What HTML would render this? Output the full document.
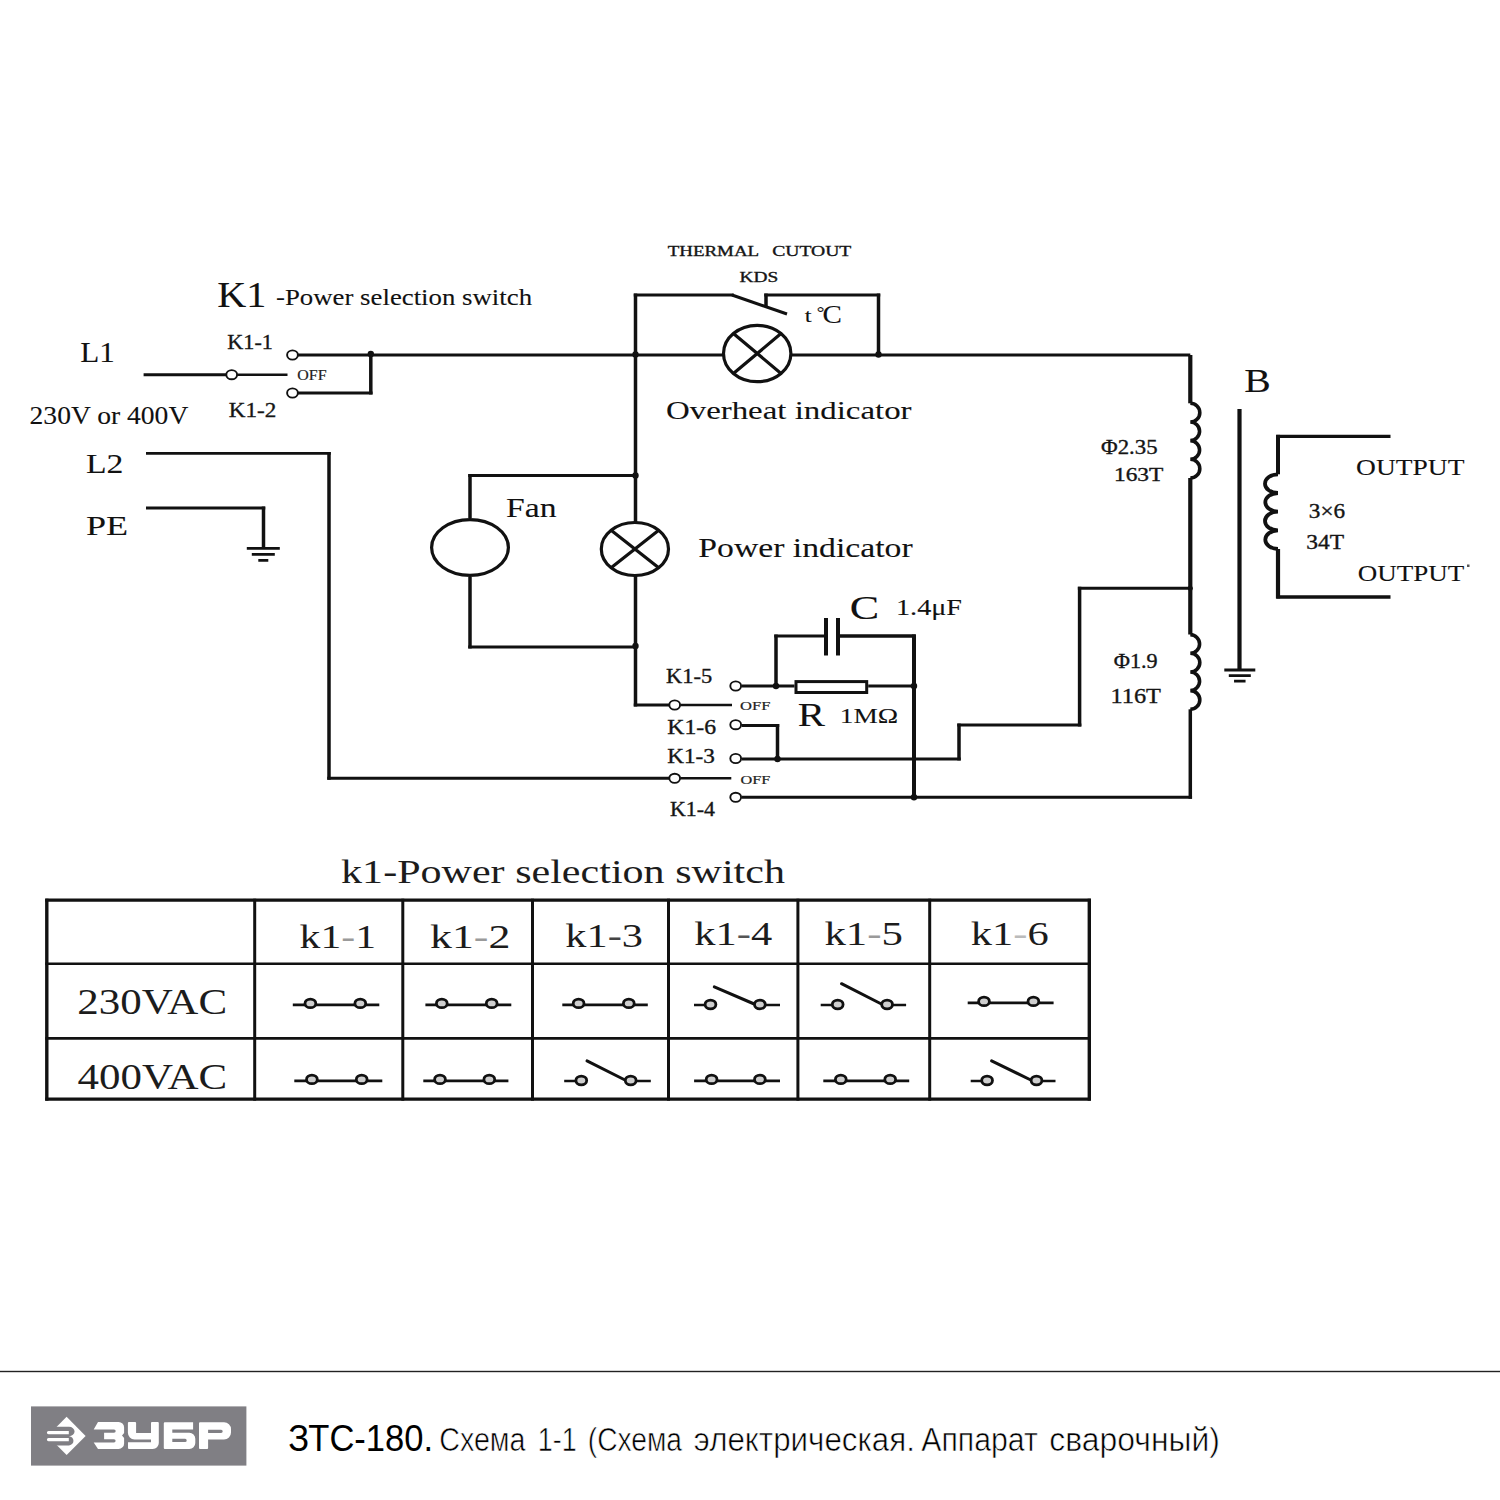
<!DOCTYPE html><html><head><meta charset="utf-8"><style>
html,body{margin:0;padding:0;background:#fff;}
body{width:1500px;height:1500px;overflow:hidden;position:relative;}
svg{position:absolute;left:0;top:0;}
.t{font-family:"Liberation Serif", serif;fill:#111;stroke:#111;stroke-width:0.1px;}
.s{font-family:"Liberation Sans", sans-serif;fill:#111;}
.tt{font-family:"Liberation Serif", serif;fill:#1c1c1c;}
.tb{font-family:"Liberation Serif", serif;fill:#151515;stroke:#151515;stroke-width:0.35px;}
.to{font-family:"Liberation Serif", serif;fill:#222;stroke:#222;stroke-width:0.2px;}
.tk{font-family:"Liberation Serif", serif;fill:#111;stroke:#111;stroke-width:0.1px;}
</style></head><body>
<svg width="1500" height="1500" viewBox="0 0 1500 1500">
<g fill="none" stroke="#111" stroke-linecap="butt" stroke-linejoin="miter">
<path d="M143.60 374.7 H226.00" stroke-width="2.90" />
<ellipse cx="231.7" cy="374.7" rx="5.4" ry="4.6" fill="#fff" stroke-width="1.9"/>
<path d="M237.2 374.7 L287.5 374.7" stroke-width="2.6" />
<ellipse cx="292.5" cy="355" rx="5.4" ry="4.6" fill="#fff" stroke-width="1.9"/>
<ellipse cx="292.5" cy="393" rx="5.4" ry="4.6" fill="#fff" stroke-width="1.9"/>
<path d="M298.00 355 H1190.30" stroke-width="2.90" />
<path d="M298.00 393 H372.55" stroke-width="2.90" />
<path d="M370.8 394.45 V353.50" stroke-width="3.50" />
<circle cx="370.8" cy="354" r="3.2" fill="#111" stroke="none"/>
<path d="M635.5 355.00 V293.55" stroke-width="3.50" />
<path d="M633.75 295 H733.75" stroke-width="2.90" />
<path d="M732 295 L787 314" stroke-width="3" />
<path d="M766 307.00 V293.55" stroke-width="3.50" />
<path d="M764.25 295 H880.25" stroke-width="2.90" />
<path d="M878.5 293.55 V355.00" stroke-width="3.50" />
<circle cx="635.5" cy="354.5" r="3.2" fill="#111" stroke="none"/>
<circle cx="878.5" cy="354.5" r="3.2" fill="#111" stroke="none"/>
<ellipse cx="757.2" cy="353.5" rx="33.7" ry="28.2" fill="#fff" stroke-width="3.2"/>
<path d="M733.4 333.6 L781.0 373.4 M781.0 333.6 L733.4 373.4" stroke-width="3.2"/>
<path d="M635.5 355.00 V706.45" stroke-width="3.50" />
<path d="M633.75 705 H669.30" stroke-width="2.90" />
<circle cx="635.5" cy="475.5" r="3.2" fill="#111" stroke="none"/>
<circle cx="635.5" cy="646" r="3.2" fill="#111" stroke="none"/>
<path d="M635.50 475.5 H468.25" stroke-width="2.90" />
<path d="M470 474.05 V518.00" stroke-width="3.50" />
<path d="M470 577.00 V648.45" stroke-width="3.50" />
<path d="M468.25 647 H635.50" stroke-width="2.90" />
<ellipse cx="470" cy="547.5" rx="38.4" ry="27.9" fill="#fff" stroke-width="3.2"/>
<ellipse cx="634.9" cy="549" rx="33.6" ry="26.5" fill="#fff" stroke-width="3.2"/>
<path d="M611.1 530.3 L658.7 567.7 M658.7 530.3 L611.1 567.7" stroke-width="3.2"/>
<ellipse cx="674.7" cy="705" rx="5.4" ry="4.6" fill="#fff" stroke-width="1.9"/>
<path d="M680.4 705 L732 705" stroke-width="2.4" />
<ellipse cx="735.7" cy="686" rx="5.4" ry="4.6" fill="#fff" stroke-width="1.9"/>
<path d="M741.70 686 H794.50" stroke-width="2.90" />
<path d="M868.20 686 H914.00" stroke-width="2.90" />
<circle cx="776" cy="686" r="3.2" fill="#111" stroke="none"/>
<circle cx="914" cy="686" r="3.2" fill="#111" stroke="none"/>
<rect x="796" y="681.6" width="70.7" height="10.9" fill="#fff" stroke-width="3"/>
<path d="M776 686.00 V634.55" stroke-width="3.50" />
<path d="M774.25 636 H826.00" stroke-width="2.90" />
<path d="M838.00 636 H915.75" stroke-width="3.29" />
<path d="M914 634.55 V797.00" stroke-width="3.97" />
<path d="M826 618.00 V655.50" stroke-width="3.97" />
<path d="M838 618.00 V655.50" stroke-width="3.97" />
<ellipse cx="735.7" cy="724.7" rx="5.4" ry="4.6" fill="#fff" stroke-width="1.9"/>
<path d="M741.70 725.5 H779.25" stroke-width="2.90" />
<path d="M777.5 724.05 V759.00" stroke-width="3.50" />
<ellipse cx="735.7" cy="758.5" rx="5.4" ry="4.6" fill="#fff" stroke-width="1.9"/>
<path d="M741.70 759 H960.75" stroke-width="2.90" />
<path d="M959 760.45 V723.55" stroke-width="3.50" />
<path d="M957.25 725 H1081.35" stroke-width="2.90" />
<path d="M1079.6 726.45 V586.75" stroke-width="3.50" />
<path d="M1077.85 588.2 H1190.30" stroke-width="2.90" />
<circle cx="777.5" cy="759" r="3.2" fill="#111" stroke="none"/>
<circle cx="1190.3" cy="588.2" r="2.5" fill="#111" stroke="none"/>
<path d="M146.00 453.4 H330.75" stroke-width="2.90" />
<path d="M329 451.95 V779.75" stroke-width="3.50" />
<path d="M327.25 778.3 H669.00" stroke-width="2.90" />
<ellipse cx="674.7" cy="778.3" rx="5.4" ry="4.6" fill="#fff" stroke-width="1.9"/>
<path d="M680.4 778.3 L731.3 778.3" stroke-width="2.4" />
<ellipse cx="735.7" cy="797.3" rx="5.4" ry="4.6" fill="#fff" stroke-width="1.9"/>
<path d="M741.70 797.3 H1192.05" stroke-width="2.90" />
<path d="M1190.3 798.75 V709.30" stroke-width="3.50" />
<circle cx="914" cy="797.3" r="3.2" fill="#111" stroke="none"/>
<path d="M146.00 508 H265.25" stroke-width="2.90" />
<path d="M263.5 506.55 V548.30" stroke-width="3.50" />
<path d="M246.8 548.3 H279.8 M251.8 554.3 H274.8 M258.3 560.3 H268.3" stroke-width="2.8"/>
<path d="M1190.3 355.00 V403.30" stroke-width="4.20" />
<path d="M1190.3 403.3 A9.5 9.337499999999999 0 0 1 1190.3 421.98 A9.5 9.337499999999999 0 0 1 1190.3 440.65 A9.5 9.337499999999999 0 0 1 1190.3 459.32 A9.5 9.337499999999999 0 0 1 1190.3 478.00" stroke-width="3.6"/>
<path d="M1190.3 478.00 V634.60" stroke-width="4.20" />
<path d="M1190.3 634.6 A9.5 9.337499999999991 0 0 1 1190.3 653.27 A9.5 9.337499999999991 0 0 1 1190.3 671.95 A9.5 9.337499999999991 0 0 1 1190.3 690.62 A9.5 9.337499999999991 0 0 1 1190.3 709.30" stroke-width="3.6"/>
<path d="M1239.5 409.00 V670.00" stroke-width="4.20" />
<path d="M1224.3 670 H1255.3 M1228.8 675.6 H1250.8 M1234.05 681.2 H1245.55" stroke-width="2.8"/>
<path d="M1390.50 436.3 H1276.25" stroke-width="3.29" />
<path d="M1278 434.85 V474.30" stroke-width="3.97" />
<path d="M1278 474.3 A13 9.337499999999999 0 0 0 1278 492.98 A13 9.337499999999999 0 0 0 1278 511.65 A13 9.337499999999999 0 0 0 1278 530.33 A13 9.337499999999999 0 0 0 1278 549.00" stroke-width="3.8"/>
<path d="M1278 549.00 V598.45" stroke-width="4.20" />
<path d="M1276.25 597 H1390.50" stroke-width="3.48" />
</g>
<text x="217.24" y="306.9" font-size="35" textLength="49.07" lengthAdjust="spacingAndGlyphs" class="tk" >K1</text>
<text x="276.01" y="305.4" font-size="23" textLength="256.05" lengthAdjust="spacingAndGlyphs" class="t" >-Power selection switch</text>
<text x="667.66" y="255.6" font-size="15" textLength="91.48" lengthAdjust="spacingAndGlyphs" class="tb" >THERMAL</text>
<text x="772.20" y="255.6" font-size="15" textLength="79.12" lengthAdjust="spacingAndGlyphs" class="tb" >CUTOUT</text>
<text x="739.44" y="282.4" font-size="15" textLength="38.76" lengthAdjust="spacingAndGlyphs" class="tb" >KDS</text>
<text x="804.76" y="322" font-size="19" textLength="6.89" lengthAdjust="spacingAndGlyphs" class="t" >t</text>
<text x="816.88" y="317.5" font-size="17" textLength="7.65" lengthAdjust="spacingAndGlyphs" class="t" >&#176;</text>
<text x="822.61" y="323.3" font-size="26" textLength="19.40" lengthAdjust="spacingAndGlyphs" class="t" >C</text>
<text x="665.95" y="419.1" font-size="25" textLength="245.64" lengthAdjust="spacingAndGlyphs" class="t" >Overheat indicator</text>
<text x="80.30" y="361.8" font-size="29" textLength="34.57" lengthAdjust="spacingAndGlyphs" class="t" >L1</text>
<text x="29.59" y="423.6" font-size="25" textLength="158.72" lengthAdjust="spacingAndGlyphs" class="t" >230V or 400V</text>
<text x="86.03" y="472.7" font-size="28" textLength="37.43" lengthAdjust="spacingAndGlyphs" class="t" >L2</text>
<text x="85.96" y="535.2" font-size="28" textLength="42.14" lengthAdjust="spacingAndGlyphs" class="t" >PE</text>
<text x="227.36" y="348.8" font-size="21" textLength="45.47" lengthAdjust="spacingAndGlyphs" class="tb" >K1-1</text>
<text x="228.84" y="416.7" font-size="21" textLength="47.44" lengthAdjust="spacingAndGlyphs" class="tb" >K1-2</text>
<text x="297.35" y="380" font-size="14" textLength="29.23" lengthAdjust="spacingAndGlyphs" class="to" >OFF</text>
<text x="506.03" y="517.4" font-size="28" textLength="50.48" lengthAdjust="spacingAndGlyphs" class="t" >Fan</text>
<text x="698.33" y="556.7" font-size="27" textLength="214.27" lengthAdjust="spacingAndGlyphs" class="t" >Power indicator</text>
<text x="849.89" y="618.8" font-size="34" textLength="29.45" lengthAdjust="spacingAndGlyphs" class="t" >C</text>
<text x="896.02" y="615.3" font-size="23.5" textLength="65.99" lengthAdjust="spacingAndGlyphs" class="t" >1.4&#956;F</text>
<text x="797.72" y="726.3" font-size="33" textLength="27.24" lengthAdjust="spacingAndGlyphs" class="t" >R</text>
<text x="839.79" y="722.8" font-size="22" textLength="58.43" lengthAdjust="spacingAndGlyphs" class="t" >1M&#937;</text>
<text x="666.05" y="682.7" font-size="20" textLength="46.12" lengthAdjust="spacingAndGlyphs" class="tb" >K1-5</text>
<text x="740.12" y="709.8" font-size="13.4" textLength="30.27" lengthAdjust="spacingAndGlyphs" class="to" >OFF</text>
<text x="667.32" y="734" font-size="20" textLength="48.69" lengthAdjust="spacingAndGlyphs" class="tb" >K1-6</text>
<text x="667.33" y="762.7" font-size="20" textLength="47.57" lengthAdjust="spacingAndGlyphs" class="tb" >K1-3</text>
<text x="740.43" y="783.8" font-size="13.4" textLength="29.86" lengthAdjust="spacingAndGlyphs" class="to" >OFF</text>
<text x="670.07" y="816" font-size="20" textLength="44.97" lengthAdjust="spacingAndGlyphs" class="tb" >K1-4</text>
<text x="1101.01" y="454" font-size="22" textLength="56.58" lengthAdjust="spacingAndGlyphs" class="tb" >&#934;2.35</text>
<text x="1113.94" y="481" font-size="19" textLength="49.45" lengthAdjust="spacingAndGlyphs" class="tb" >163T</text>
<text x="1244.16" y="392" font-size="33" textLength="26.48" lengthAdjust="spacingAndGlyphs" class="t" >B</text>
<text x="1356.07" y="475.2" font-size="24" textLength="108.38" lengthAdjust="spacingAndGlyphs" class="t" >OUTPUT</text>
<text x="1357.69" y="580.8" font-size="24" textLength="106.56" lengthAdjust="spacingAndGlyphs" class="t" >OUTPUT</text>
<rect x="1467" y="564.5" width="2.5" height="2.5" fill="#555"/>
<text x="1308.89" y="518.4" font-size="20" textLength="36.20" lengthAdjust="spacingAndGlyphs" class="tb" >3&#215;6</text>
<text x="1306.18" y="548.8" font-size="20" textLength="37.81" lengthAdjust="spacingAndGlyphs" class="tb" >34T</text>
<text x="1113.73" y="667.5" font-size="21" textLength="43.88" lengthAdjust="spacingAndGlyphs" class="tb" >&#934;1.9</text>
<text x="1110.50" y="703" font-size="22" textLength="50.50" lengthAdjust="spacingAndGlyphs" class="tb" >116T</text>
<text x="341.10" y="882.9" font-size="34.5" textLength="443.86" lengthAdjust="spacingAndGlyphs" class="tt" >k1-Power selection switch</text>
<g fill="none" stroke="#111">
<path d="M46.8 898.7 V1100.7" stroke-width="3.4"/>
<path d="M254.7 898.7 V1100.7" stroke-width="3.0"/>
<path d="M402.8 898.7 V1100.7" stroke-width="3.0"/>
<path d="M532.5 898.7 V1100.7" stroke-width="3.0"/>
<path d="M668.5 898.7 V1100.7" stroke-width="3.0"/>
<path d="M797.9 898.7 V1100.7" stroke-width="3.0"/>
<path d="M929.7 898.7 V1100.7" stroke-width="3.0"/>
<path d="M1089.3 898.7 V1100.7" stroke-width="3.4"/>
<path d="M45.3 900.2 H1090.8" stroke-width="3.2"/>
<path d="M45.3 963.7 H1090.8" stroke-width="2.6"/>
<path d="M45.3 1038.4 H1090.8" stroke-width="2.6"/>
<path d="M45.3 1099.2 H1090.8" stroke-width="3.2"/>
</g>
<text x="299.61" y="948" font-size="34.5" textLength="76.40" lengthAdjust="spacingAndGlyphs" class="tt" >k1<tspan fill="#9a9a9a">-</tspan>1</text>
<text x="429.97" y="948" font-size="34.5" textLength="80.35" lengthAdjust="spacingAndGlyphs" class="tt" >k1<tspan fill="#9a9a9a">-</tspan>2</text>
<text x="565.29" y="947.3" font-size="34.5" textLength="77.66" lengthAdjust="spacingAndGlyphs" class="tt" >k1<tspan fill="#444">-</tspan>3</text>
<text x="694.39" y="944.8" font-size="34.5" textLength="77.87" lengthAdjust="spacingAndGlyphs" class="tt" >k1<tspan fill="#555">-</tspan>4</text>
<text x="824.48" y="944.7" font-size="34.5" textLength="78.49" lengthAdjust="spacingAndGlyphs" class="tt" >k1<tspan fill="#9a9a9a">-</tspan>5</text>
<text x="970.89" y="944.7" font-size="34.5" textLength="77.87" lengthAdjust="spacingAndGlyphs" class="tt" >k1<tspan fill="#bbb">-</tspan>6</text>
<text x="77.38" y="1013.8" font-size="35.3" textLength="149.71" lengthAdjust="spacingAndGlyphs" class="tt" >230VAC</text>
<text x="77.49" y="1089.2" font-size="35.3" textLength="149.59" lengthAdjust="spacingAndGlyphs" class="tt" >400VAC</text>
<path d="M292.8 1004.8 H379.3" stroke="#111" stroke-width="2.7" fill="none"/>
<ellipse cx="310.4" cy="1003.4" rx="5.4" ry="4.3" fill="#cfcfcf" stroke="#111" stroke-width="2.8"/>
<ellipse cx="360.3" cy="1003.4" rx="5.4" ry="4.3" fill="#cfcfcf" stroke="#111" stroke-width="2.8"/>
<path d="M425.4 1004.8 H511.3" stroke="#111" stroke-width="2.7" fill="none"/>
<ellipse cx="441.8" cy="1003.4" rx="5.4" ry="4.3" fill="#cfcfcf" stroke="#111" stroke-width="2.8"/>
<ellipse cx="491.7" cy="1003.4" rx="5.4" ry="4.3" fill="#cfcfcf" stroke="#111" stroke-width="2.8"/>
<path d="M562.3 1004.8 H647.8" stroke="#111" stroke-width="2.7" fill="none"/>
<ellipse cx="578.6" cy="1003.4" rx="5.4" ry="4.3" fill="#cfcfcf" stroke="#111" stroke-width="2.8"/>
<ellipse cx="628.8" cy="1003.4" rx="5.4" ry="4.3" fill="#cfcfcf" stroke="#111" stroke-width="2.8"/>
<path d="M694 1005 H710.5 M759.9 1005 H780" stroke="#111" stroke-width="2.7" fill="none"/>
<path d="M714.3 986.8 L754.2 1004" stroke="#111" stroke-width="3" stroke-linecap="round" fill="none"/>
<ellipse cx="710.5" cy="1004.5" rx="5.4" ry="4.3" fill="#cfcfcf" stroke="#111" stroke-width="2.8"/>
<ellipse cx="759.9" cy="1004.5" rx="5.4" ry="4.3" fill="#cfcfcf" stroke="#111" stroke-width="2.8"/>
<path d="M820.7 1005 H837.7 M887.1 1005 H906.1" stroke="#111" stroke-width="2.7" fill="none"/>
<path d="M841.5 983.7 L881.4 1004" stroke="#111" stroke-width="3" stroke-linecap="round" fill="none"/>
<ellipse cx="837.7" cy="1004.5" rx="5.4" ry="4.3" fill="#cfcfcf" stroke="#111" stroke-width="2.8"/>
<ellipse cx="887.1" cy="1004.5" rx="5.4" ry="4.3" fill="#cfcfcf" stroke="#111" stroke-width="2.8"/>
<path d="M967.7 1002.8 H1053.6" stroke="#111" stroke-width="2.7" fill="none"/>
<ellipse cx="984" cy="1001.4" rx="5.4" ry="4.3" fill="#cfcfcf" stroke="#111" stroke-width="2.8"/>
<ellipse cx="1033.4" cy="1001.4" rx="5.4" ry="4.3" fill="#cfcfcf" stroke="#111" stroke-width="2.8"/>
<path d="M294.3 1080.8 H382.3" stroke="#111" stroke-width="2.7" fill="none"/>
<ellipse cx="311.9" cy="1079.4" rx="5.4" ry="4.3" fill="#cfcfcf" stroke="#111" stroke-width="2.8"/>
<ellipse cx="361.7" cy="1079.4" rx="5.4" ry="4.3" fill="#cfcfcf" stroke="#111" stroke-width="2.8"/>
<path d="M423.3 1080.8 H508.4" stroke="#111" stroke-width="2.7" fill="none"/>
<ellipse cx="440" cy="1079.4" rx="5.4" ry="4.3" fill="#cfcfcf" stroke="#111" stroke-width="2.8"/>
<ellipse cx="489.3" cy="1079.4" rx="5.4" ry="4.3" fill="#cfcfcf" stroke="#111" stroke-width="2.8"/>
<path d="M564.2 1081 H581.3 M630.7 1081 H650.8" stroke="#111" stroke-width="2.7" fill="none"/>
<path d="M587 1060.9 L625 1080" stroke="#111" stroke-width="3" stroke-linecap="round" fill="none"/>
<ellipse cx="581.3" cy="1080.5" rx="5.4" ry="4.3" fill="#cfcfcf" stroke="#111" stroke-width="2.8"/>
<ellipse cx="630.7" cy="1080.5" rx="5.4" ry="4.3" fill="#cfcfcf" stroke="#111" stroke-width="2.8"/>
<path d="M694.1 1080.8 H780" stroke="#111" stroke-width="2.7" fill="none"/>
<ellipse cx="711.6" cy="1079.4" rx="5.4" ry="4.3" fill="#cfcfcf" stroke="#111" stroke-width="2.8"/>
<ellipse cx="759.9" cy="1079.4" rx="5.4" ry="4.3" fill="#cfcfcf" stroke="#111" stroke-width="2.8"/>
<path d="M823.3 1080.8 H909.2" stroke="#111" stroke-width="2.7" fill="none"/>
<ellipse cx="840.8" cy="1079.4" rx="5.4" ry="4.3" fill="#cfcfcf" stroke="#111" stroke-width="2.8"/>
<ellipse cx="890.2" cy="1079.4" rx="5.4" ry="4.3" fill="#cfcfcf" stroke="#111" stroke-width="2.8"/>
<path d="M970.7 1081 H987.1 M1036.5 1081 H1055.5" stroke="#111" stroke-width="2.7" fill="none"/>
<path d="M991.6 1060.9 L1030.8 1080" stroke="#111" stroke-width="3" stroke-linecap="round" fill="none"/>
<ellipse cx="987.1" cy="1080.5" rx="5.4" ry="4.3" fill="#cfcfcf" stroke="#111" stroke-width="2.8"/>
<ellipse cx="1036.5" cy="1080.5" rx="5.4" ry="4.3" fill="#cfcfcf" stroke="#111" stroke-width="2.8"/>
<rect x="0" y="1370.8" width="1500" height="1.4" fill="#222"/>
<rect x="31" y="1406.4" width="215.4" height="59.2" fill="#807f84"/>
<path d="M66.6 1416.8 L85.6 1436 L66.6 1455 L47.6 1436 Z" fill="#fff"/>
<path d="M46.8 1426.8 H69 A5.6 4.7 0 0 1 69 1436.2 A5.6 4.7 0 0 1 69 1445.4 H46.8 Z" fill="#807f84"/>
<path d="M48.5 1431 H68.8 V1434.2 H48.5 A1.6 1.6 0 0 1 48.5 1431 Z M48.5 1438 H68.8 V1441.2 H48.5 A1.6 1.6 0 0 1 48.5 1438 Z" fill="#fff"/>
<path d="M98 1422 H118.6 A5.5 5.5 0 0 1 124.1 1427.5 V1433 L122 1435.6 L124.1 1438 V1443.4 A5.5 5.5 0 0 1 118.6 1448.9 H98 L93.7 1442.4 H114 A1.6 1.6 0 0 0 114 1439.2 H104.1 V1432.8 H114 A1.6 1.6 0 0 0 114 1429.4 H93.7 Z" fill="#fff"/>
<path d="M127.9 1423 A1 1 0 0 1 128.9 1422 H135.1 A1 1 0 0 1 136.1 1423 V1432.9 H151 V1423 A1 1 0 0 1 152 1422 H157.8 A1 1 0 0 1 158.8 1423 V1442.9 A6 6 0 0 1 152.8 1448.9 H129 A1 1 0 0 1 128 1447.9 V1442.3 H151 V1439.4 H134.5 A6.6 6.6 0 0 1 127.9 1432.8 Z" fill="#fff"/>
<path d="M163.8 1423.3 A1 1 0 0 1 164.8 1422.3 H193.1 V1429.5 H172.3 V1432.7 H189.3 A6 6 0 0 1 195.3 1438.7 V1442.9 A6 6 0 0 1 189.3 1448.9 H164.8 A1 1 0 0 1 163.8 1447.9 Z M172.3 1438.8 V1442 H185.1 A1.6 1.6 0 0 0 185.1 1438.8 Z" fill="#fff" fill-rule="evenodd"/>
<path d="M199 1423.3 A1 1 0 0 1 200 1422.3 H224 A7 7 0 0 1 231 1429.3 V1432.6 A7 7 0 0 1 224 1439.6 H208.1 V1447.9 A1 1 0 0 1 207.1 1448.9 H200 A1 1 0 0 1 199 1447.9 Z M208.1 1429.7 V1432.9 H221.1 A1.6 1.6 0 0 0 221.1 1429.7 Z" fill="#fff" fill-rule="evenodd"/>
<text x="288.18" y="1450.9" font-size="37" textLength="144.96" lengthAdjust="spacingAndGlyphs" class="s" style="fill:#000">&#1047;&#1058;&#1057;-180.</text>
<text x="439.25" y="1450.9" font-size="32.5" textLength="86.25" lengthAdjust="spacingAndGlyphs" class="s" style="fill:#000;stroke:#fff;stroke-width:0.6px">&#1057;&#1093;&#1077;&#1084;&#1072;</text>
<text x="537.86" y="1450.9" font-size="32.5" textLength="38.75" lengthAdjust="spacingAndGlyphs" class="s" style="fill:#000;stroke:#fff;stroke-width:0.6px">1-1</text>
<text x="587.76" y="1450.9" font-size="32.5" textLength="94.24" lengthAdjust="spacingAndGlyphs" class="s" style="fill:#000;stroke:#fff;stroke-width:0.6px">(&#1057;&#1093;&#1077;&#1084;&#1072;</text>
<text x="693.86" y="1450.9" font-size="32.5" textLength="221.00" lengthAdjust="spacingAndGlyphs" class="s" style="fill:#000;stroke:#fff;stroke-width:0.6px">&#1101;&#1083;&#1077;&#1082;&#1090;&#1088;&#1080;&#1095;&#1077;&#1089;&#1082;&#1072;&#1103;.</text>
<text x="921.24" y="1450.9" font-size="32.5" textLength="116.57" lengthAdjust="spacingAndGlyphs" class="s" style="fill:#000;stroke:#fff;stroke-width:0.6px">&#1040;&#1087;&#1087;&#1072;&#1088;&#1072;&#1090;</text>
<text x="1049.35" y="1450.9" font-size="32.5" textLength="170.61" lengthAdjust="spacingAndGlyphs" class="s" style="fill:#000;stroke:#fff;stroke-width:0.6px">&#1089;&#1074;&#1072;&#1088;&#1086;&#1095;&#1085;&#1099;&#1081;)</text>
</svg></body></html>
